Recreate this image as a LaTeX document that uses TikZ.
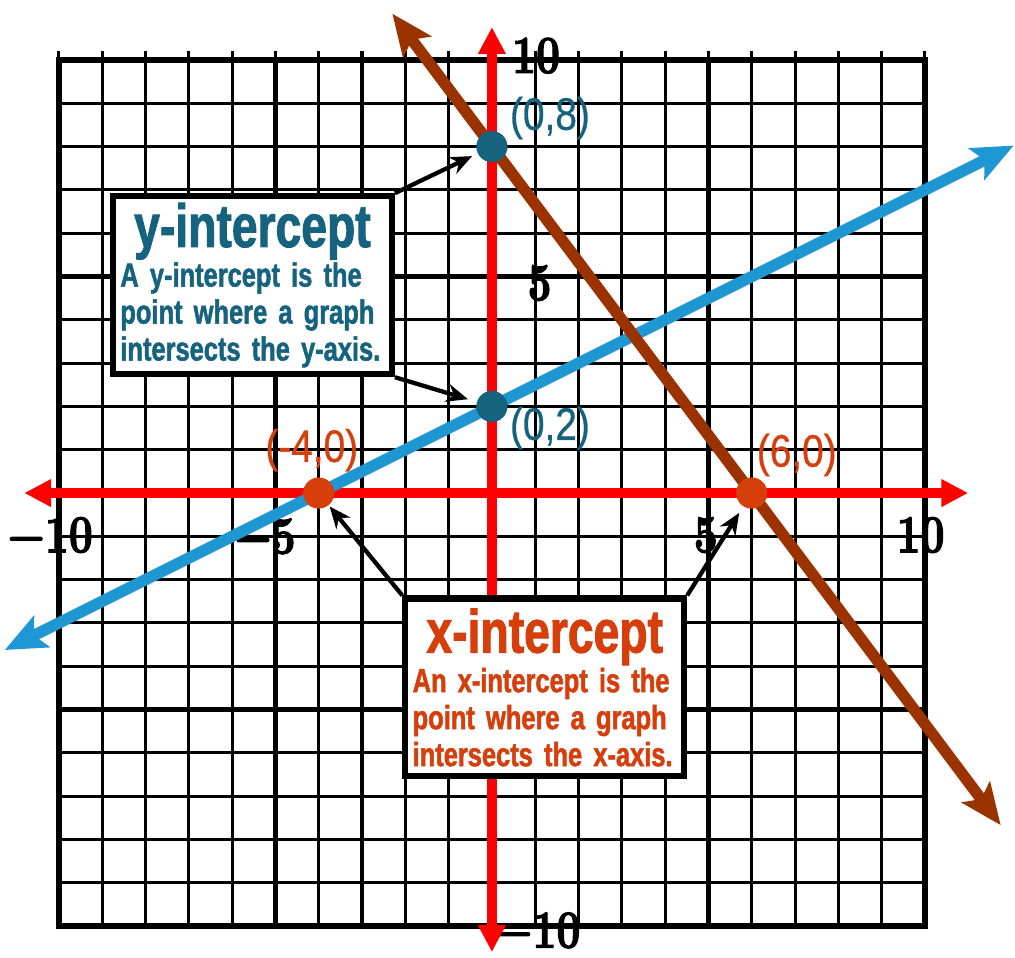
\documentclass[tikz,border=0pt]{standalone}
\usepackage{fontspec}
\usetikzlibrary{arrows.meta,positioning}
\newfontfamily\condfont{Liberation Sans}[FakeStretch=0.76,FakeBold=1.5]
\newfontfamily\handfont{Liberation Sans}[FakeStretch=0.85,FakeBold=0.6]
\newfontfamily\numfont{Latin Modern Roman}[FakeBold=2.5]
\definecolor{yteal}{HTML}{16637F}
\definecolor{xorange}{HTML}{D63E0B}
\definecolor{lineblue}{HTML}{1E97D4}
\definecolor{linebrown}{HTML}{9A3300}
\definecolor{axisred}{HTML}{FF0000}

\begin{document}
\begin{tikzpicture}[
  minor/.style={line width=2pt},
  major/.style={line width=3pt},
  axis/.style={{Triangle[length=0.62cm,width=0.6cm]}-{Triangle[length=0.62cm,width=0.6cm]},line width=7pt,color=axisred},
  graph/.style={{Stealth[length=0.95cm,width=0.8cm,inset=0.2cm]}-{Stealth[length=0.95cm,width=0.8cm,inset=0.2cm]},line width=7.5pt,color=#1},
  dot/.style={circle,fill=#1,inner sep=0pt,minimum size=0.72cm},
  ptlabel/.style={font=\handfont\fontsize{30}{32}\selectfont,text=#1},
  numlabel/.style={font=\numfont\fontsize{28}{30}\selectfont\bfseries},
  infobox/.style={draw=black,line width=4pt,fill=white,text width=6.1cm,inner xsep=0.17cm,inner ysep=0.1cm,
                  minimum height=4.11cm,align=left,text=#1,font=\condfont\bfseries\fontsize{22}{24.3}\selectfont},
  callout/.style={-{Stealth[length=0.5cm,width=0.42cm]},line width=2.8pt,shorten >=#1}]
  \useasboundingbox (-11.36,-10.716) rectangle (12.08,11.386);
  \foreach \i in {-10,...,10} {
    \draw[minor] (\i,-10) -- (\i,10.2);
    \draw[minor] (-10,\i) -- (10,\i);
  }
  \foreach \i in {-5,5} {
    \draw[major] (\i,-10) -- (\i,10);
    \draw[major] (-10,\i) -- (10,\i);
  }
  \draw[line width=4pt] (-10,-10) rectangle (10,10);
  \node[numlabel] (ytop) at (1.02,10.1) {\scalebox{1}[1.25]{10}};
  \node[numlabel] (yfive) at (1.1,4.85) {\scalebox{1}[1.25]{5}};
  \node[numlabel] (ybot) at (1.06,-10.1) {\scalebox{1}[1.25]{−10}};
  \node[numlabel] (xleft) at (-10.2,-0.97) {\scalebox{1}[1.25]{−10}};
  \node[numlabel] (xmfive) at (-5.24,-1.0) {\scalebox{1}[1.25]{−5}};
  \node[numlabel] (xfive) at (4.94,-0.97) {\scalebox{1}[1.25]{5}};
  \node[numlabel] (xright) at (9.9,-0.97) {\scalebox{1}[1.25]{10}};
  \coordinate (xa) at (-10.8,0); \coordinate (xb) at (11.0,0);
  \coordinate (ya) at (0,-10.6); \coordinate (yb) at (0,10.76);
  \draw[axis] (xa) -- (xb);
  \draw[axis] (ya) -- (yb);
  \coordinate (ba) at (-11.25,-3.625); \coordinate (bb) at (12.05,8.025);
  \coordinate (ra) at (-2.3,11.07); \coordinate (rb) at (11.75,-7.67);
  \draw[graph=lineblue] (ba) -- (bb);
  \draw[graph=linebrown] (ra) -- (rb);
  \node[dot=yteal] (p08) at (0,8) {};
  \node[dot=yteal] (p02) at (0,2) {};
  \node[dot=xorange] (pm40) at (-4,0) {};
  \node[dot=xorange] (p60) at (6,0) {};
  \node[ptlabel=yteal] (l08) at (1.34,8.66) {(0,8)};
  \node[ptlabel=yteal] (l02) at (1.34,1.5) {(0,2)};
  \node[ptlabel=xorange] (lm40) at (-4.16,0.99) {(-4,0)};
  \node[ptlabel=xorange] (l60) at (7.04,0.88) {(6,0)};
  \node[infobox=yteal] (ybox) at (-5.53,4.80) {\makebox[\linewidth]{\fontsize{40}{42}\selectfont y-intercept}\\[1.7pt]
    A y-intercept is the\\ point where a graph\\ intersects the y-axis.};
  \node[infobox=xorange] (xbox) at (1.22,-4.49) {\makebox[\linewidth]{\fontsize{40}{42}\selectfont x-intercept}\\[1.7pt]
    An x-intercept is the\\ point where a graph\\ intersects the x-axis.};
  \draw[callout=4pt] (ybox.north east) -- (p08);
  \draw[callout=6pt] (ybox.south east) -- (p02);
  \draw[callout=1pt] (xbox.north west) -- (pm40);
  \draw[callout=5pt] (xbox.north east) -- (p60);
\end{tikzpicture}
\end{document}
